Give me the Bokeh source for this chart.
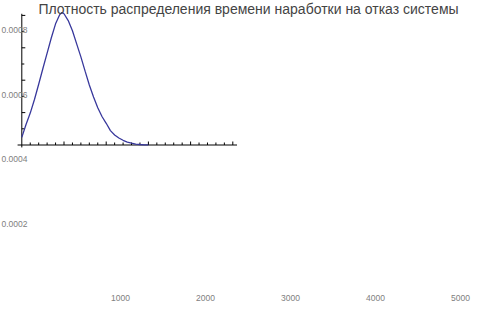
import numpy as np
from bokeh.plotting import figure
from bokeh.models import Range1d, Label
from bokeh.core.properties import value
from bokeh.embed import file_html
from bokeh.resources import INLINE

title_text = "Плотность распределения времени наработки на отказ системы"

# density curve
t_hours = [0, 100, 200, 300, 400, 500, 600, 700, 800, 900, 950, 1000, 1100, 1200,
           1300, 1400, 1500, 1600, 1700, 1800, 1900, 2000, 2100, 2200, 2300, 2400,
           2500, 2600, 2700, 2800, 2900, 3000]
density = [0.000047, 0.000127, 0.000197, 0.000281, 0.000375, 0.000472, 0.000567,
           0.000662, 0.000748, 0.000805, 0.000818, 0.000810, 0.000768, 0.000705,
           0.000624, 0.000544, 0.000456, 0.000370, 0.000296, 0.000230, 0.000176,
           0.000134, 0.000089, 0.000062, 0.000043, 0.000029, 0.000018, 0.000011,
           0.000006, 0.000003, 0.000001, 0.0000005]

x_tick_values = [1000, 2000, 3000, 4000, 5000]
x_tick_labels = ["1000", "2000", "3000", "4000", "5000"]
y_tick_values = [0.0002, 0.0004, 0.0006, 0.0008]
y_tick_labels = ["0.0002", "0.0004", "0.0006", "0.0008"]
x_minor_step = 200
y_minor_step = 0.0001

W, H = 480, 309
# label coordinate system (pixel of zero, pixels per unit)
LX0, LXS = 35.0, 0.085
LY0, LYS = 288.0, 64.6 / 0.0002
# drawing coordinate system
DX0, DXS = 21.3, 0.0422
DY0, DYS = 144.5, 162000.0

p = figure(width=W, height=H,
           x_range=Range1d(-LX0 / LXS, (W - LX0) / LXS),
           y_range=Range1d(-(H - LY0) / LYS, LY0 / LYS),
           min_border=0, toolbar_location=None, output_backend="svg",
           x_axis_location=None, y_axis_location=None)
p.outline_line_color = None
p.background_fill_color = "white"
p.border_fill_color = "white"
p.grid.visible = False
p.extra_x_ranges = {"d": Range1d(-DX0 / DXS, (W - DX0) / DXS)}
p.extra_y_ranges = {"d": Range1d(-(H - DY0) / DYS, DY0 / DYS)}

# axes of the drawing
x_axis_lo, x_axis_hi = -100, 5100
y_axis_lo, y_axis_hi = -0.000015, 0.00081
p.segment(x0=[x_axis_lo], y0=[0], x1=[x_axis_hi], y1=[0], line_color="black",
          line_width=1, x_range_name="d", y_range_name="d")
p.segment(x0=[0], y0=[y_axis_lo], x1=[0], y1=[y_axis_hi], line_color="black",
          line_width=1, x_range_name="d", y_range_name="d")

xm = np.arange(x_minor_step, 5000 + 1, x_minor_step)
xm_len = np.where(np.isin(xm, x_tick_values), 3.5, 2.5) / DYS
p.segment(x0=xm, y0=np.zeros(len(xm)), x1=xm, y1=xm_len, line_color="black",
          line_width=1, x_range_name="d", y_range_name="d")
ym = np.round(np.arange(1, 9) * y_minor_step, 6)
ym_len = np.where(np.isin(ym, np.round(y_tick_values, 6)), 3.5, 2.5) / DXS
p.segment(x0=np.zeros(len(ym)), y0=ym, x1=ym_len, y1=ym, line_color="black",
          line_width=1, x_range_name="d", y_range_name="d")

p.line(t_hours, density, line_color="#38389c", line_width=1.3,
       x_range_name="d", y_range_name="d")

# tick labels
p.text(x=x_tick_values, y=[0] * len(x_tick_values), text=x_tick_labels,
       y_offset=9, text_align="center", text_baseline="middle",
       text_font=value("Liberation Sans"), text_font_size="8.5px", text_color="#808080")
p.text(x=[0] * len(y_tick_values), y=y_tick_values, text=y_tick_labels,
       x_offset=-8, text_align="right", text_baseline="middle",
       text_font=value("Liberation Sans"), text_font_size="8.5px", text_color="#808080")

title_px, title_py = 248.0, 8.5
p.add_layout(Label(x=(title_px - LX0) / LXS, y=(LY0 - title_py) / LYS, text=title_text,
                   text_align="center", text_baseline="middle",
                   text_font="Liberation Sans", text_font_size="14px",
                   text_color="#444444"))

open("out.html", "w").write(file_html(p, INLINE))
